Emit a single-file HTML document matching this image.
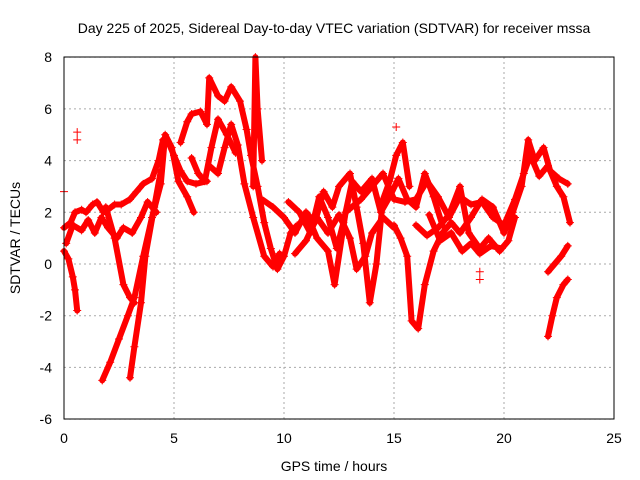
<!DOCTYPE html>
<html><head><meta charset="utf-8"><style>
body{margin:0;background:#fff}
svg{display:block;font-family:"Liberation Sans",sans-serif}
</style></head><body>
<svg id="chart" width="640" height="480" xmlns="http://www.w3.org/2000/svg">
<text x="334" y="33" font-size="14" text-anchor="middle">Day 225 of 2025, Sidereal Day-to-day VTEC variation (SDTVAR) for receiver mssa</text>
<text x="334" y="471" font-size="14" text-anchor="middle">GPS time / hours</text>
<text x="20" y="238" font-size="14" text-anchor="middle" transform="rotate(-90 20 238)">SDTVAR / TECUs</text>
<g id="grid"></g><g id="ticks"></g><g id="marks"></g>
<rect x="64" y="57" width="550" height="362" fill="none" stroke="#000"/>
</svg>
<script>
const xTicks=[0,5,10,15,20,25];
const yTicks=[-6,-4,-2,0,2,4,6,8];
const trackA=[[0,1.4],[0.3,1.6],[0.5,2],[0.8,2.1],[1,2],[1.3,2.3],[1.5,2.4],[1.8,2],[2,2.1],[2.3,2.3],[2.6,2.3],[3,2.5],[3.3,2.8],[3.6,3.1],[4,3.3],[4.3,4],[4.5,4.8],[4.8,4.6],[5,4.2],[5.3,3.6],[5.6,3.2],[6,3.1],[6.5,3.2]];
const trackA2=[[0.1,0.8],[0.4,1.5],[0.8,1.3],[1.1,1.7],[1.4,1.2],[1.7,1.8],[2,1.4],[2.4,1.0],[2.7,1.4],[3.1,1.2],[3.5,1.8],[3.8,2.4],[4.2,2.0]];
const trackB=[[1.74,-4.5],[2.1,-3.8],[2.5,-2.9],[2.9,-2],[3.2,-1.3],[3.6,0.3],[4,1.8],[4.4,3.1],[4.6,5],[4.9,4.5],[5.2,3.2],[5.6,2.6],[5.9,2]];
const trackC=[[3.0,-4.4],[3.2,-3.2],[3.5,-1.5],[3.7,0.3],[4.1,2.2],[4.4,3.6]];
const trackC2=[[1.9,2.2],[2.3,1.0],[2.7,-0.8],[3.0,-1.3],[3.2,-1.5]];
const trackD=[[0,0.5],[0.2,0.2],[0.4,-0.5],[0.5,-1],[0.6,-1.8]];
const trackE=[[5.3,4.7],[5.6,5.5],[5.8,5.8],[6.2,5.9],[6.5,5.4],[6.6,7.2],[7.0,6.5],[7.3,6.3],[7.6,6.85],[8.0,6.3],[8.3,5.2],[8.5,4.2],[8.8,3],[9.1,1.6],[9.4,0.6],[9.7,-0.2],[10,0.3],[10.3,1.2],[10.6,1.5]];
const trackF=[[6.6,3.8],[7.0,3.5],[7.3,4.5],[7.6,5.4],[7.9,4.6],[8.2,3.1],[8.6,1.8],[9.1,0.3],[9.5,-0.1],[9.8,0.4]];
const trackG=[[5.8,4.1],[6.1,3.5],[6.4,3.2],[6.7,4.5],[7.0,5.6],[7.4,5.0],[7.8,4.3]];
const trackS=[[8.6,3],[8.7,8],[8.8,6],[9,4]];
const trackH=[[9,2.5],[9.5,2.2],[10,1.8],[10.5,1.2],[11,2],[11.4,1.6],[11.8,2.8],[12.2,2.2],[12.5,3],[13,3.5],[13.3,2.2],[13.6,0.8],[13.9,-1.5],[14.2,0],[14.5,2.5],[14.8,3.2],[15.1,4.2],[15.4,4.7],[15.7,3]];
const trackH2=[[10.2,2.4],[10.7,2.0],[11.2,1.2],[11.6,2.6],[12.0,1.8],[12.4,0.6],[12.7,1.6],[13.1,3.2],[13.5,2.8],[14.0,3.3],[14.4,2.0],[14.8,2.6],[15.2,3.3],[15.6,2.5],[16.0,2.2],[16.4,3.5],[16.8,2.6],[17.2,1.5]];
const trackI=[[11,2],[11.5,1],[12,0.5],[12.3,-0.8],[12.8,2],[13.5,2.5],[14,3],[14.5,3.5],[15,2.5],[15.5,2.4],[16,2.5],[16.5,3.2],[17,2.6],[17.5,1.8],[18,2.6],[18.5,2.3],[19,2.4],[19.5,1.8],[20,1.5]];
const trackI2=[[10.5,0.4],[11,0.9],[11.5,1.8],[12,1.2],[12.5,1.9],[13,1.0],[13.3,-0.2],[13.7,0.3],[14,1.2],[14.5,1.8],[15,1.4]];
const trackJ=[[15,1.5],[15.3,1.0],[15.6,0.3],[15.8,-2.2],[16.1,-2.5],[16.4,-0.8],[16.8,0.5],[17.2,1.2],[17.6,1.6],[18,1.2],[18.5,1.8],[19,2.5],[19.5,2.2],[20,1.2],[20.4,2],[20.8,3],[21.1,4.8],[21.4,4.0],[21.8,4.5],[22.1,3.6],[22.5,3.3],[22.9,3.1]];
const trackK=[[16,1.5],[16.5,1.1],[17,1.4],[17.5,1.9],[18,3],[18.4,1.2],[18.9,0.6],[19.3,1.0],[19.8,0.5],[20.2,0.9],[20.5,1.8]];
const trackK2=[[16.6,1.9],[17.1,0.9],[17.6,1.2],[18.1,0.5],[18.5,0.8],[18.9,0.4],[19.4,0.7],[19.9,0.6]];
const trackL=[[20,1.5],[20.5,2.5],[20.9,3.5],[21.2,4.2],[21.6,3.4],[22,3.8],[22.4,3.0],[22.7,2.6],[23,1.6]];
const trackM=[[22,-2.8],[22.2,-2.0],[22.4,-1.3],[22.7,-0.8],[22.9,-0.6]];
const trackN=[[22,-0.3],[22.3,0],[22.6,0.3],[22.9,0.7]];
const singles=[[0,2.8],[0.6,5.1],[0.6,4.8],[18.9,-0.6],[18.9,-0.3],[15.1,5.3]];
const tracks=[trackA,trackA2,trackB,trackC,trackC2,trackD,trackE,trackF,trackG,trackS,trackH,trackH2,trackI,trackI2,trackJ,trackK,trackK2,trackL,trackM,trackN];
const NS="http://www.w3.org/2000/svg";
const X=t=>64+t*22, Y=v=>264-v*362/14;
const grid=document.getElementById('grid'),ticks=document.getElementById('ticks'),marks=document.getElementById('marks');
function mk(tag,at,parent){const e=document.createElementNS(NS,tag);for(const k in at)e.setAttribute(k,at[k]);parent.appendChild(e);return e;}
xTicks.forEach(t=>{
 const g=mk('line',{x1:X(t),x2:X(t),y1:57,y2:419,stroke:'#aaa','stroke-dasharray':'2,3'},grid);
 
 
 const l=mk('text',{x:X(t),y:443,'font-size':14,'text-anchor':'middle'},ticks);l.textContent=t;
 
 
});
yTicks.forEach(v=>{
 const g=mk('line',{x1:64,x2:614,y1:Y(v),y2:Y(v),stroke:'#aaa','stroke-dasharray':'2,3'},grid);
 
 
 const l=mk('text',{x:52,y:Y(v)+5,'font-size':14,'text-anchor':'end'},ticks);l.textContent=v;
 
 
});
function plus(t,v){
 const p=mk('path',{d:`M${X(t)-4},${Y(v)}h8M${X(t)},${Y(v)-4}v8`,stroke:'#f00','stroke-width':1},marks);
 
 
}
tracks.forEach(tr=>{
 const pl=mk('polyline',{points:tr.map(p=>X(p[0])+','+Y(p[1])).join(' '),fill:'none',stroke:'#f00','stroke-width':6,'stroke-linejoin':'round','stroke-linecap':'round'},marks);
 
 
 tr.forEach(p=>plus(p[0],p[1]));
});
singles.forEach(p=>plus(p[0],p[1]));
</script>
</body></html>
